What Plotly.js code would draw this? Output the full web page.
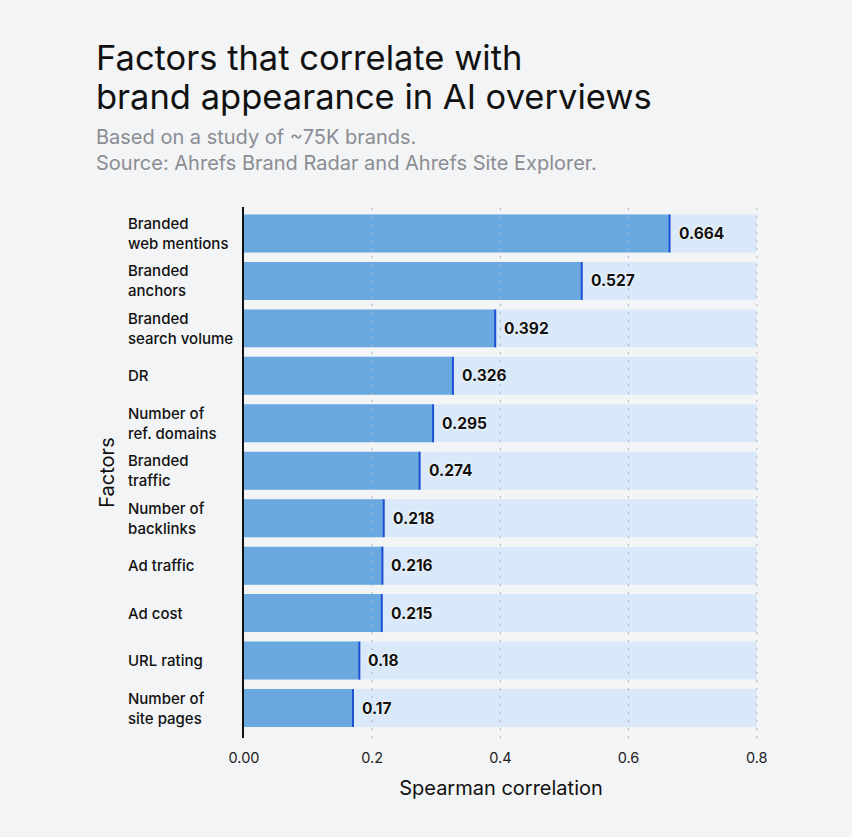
<!DOCTYPE html>
<html>
<head>
<meta charset="utf-8">
<script src="https://cdn.plot.ly/plotly-3.0.1.min.js"></script>
<style>
  html, body { margin: 0; padding: 0; background: #f3f4f6; }
  #chart { width: 852px; height: 837px; }
</style>
</head>
<body>
<div id="chart"></div>
<script>
// Factors, top to bottom, with their Spearman correlation to AI overview appearance
const factors = [
  "Branded<br>web mentions",
  "Branded<br>anchors",
  "Branded<br>search volume",
  "DR",
  "Number of<br>ref. domains",
  "Branded<br>traffic",
  "Number of<br>backlinks",
  "Ad traffic",
  "Ad cost",
  "URL rating",
  "Number of<br>site pages"
];
const correlation = [0.664, 0.527, 0.392, 0.326, 0.295, 0.274, 0.218, 0.216, 0.215, 0.18, 0.17];

const xTickVals = [0, 0.2, 0.4, 0.6, 0.8];
const xTickText = ["0.00", "0.2", "0.4", "0.6", "0.8"];
const axisMax = 0.8;

const titleLines = ["Factors that correlate with", "brand appearance in AI overviews"];
const subtitleLines = ["Based on a study of ~75K brands.", "Source: Ahrefs Brand Radar and Ahrefs Site Explorer."];

const FONT = "Inter, 'Noto Sans', sans-serif";
const idx = factors.map((_, i) => i);

// full-width track behind each bar
const track = {
  type: "bar", orientation: "h",
  y: idx, x: idx.map(() => axisMax),
  width: 0.8,
  marker: { color: "#d9e9f9" },
  hoverinfo: "skip"
};
const values = {
  type: "bar", orientation: "h",
  y: idx, x: correlation,
  width: 0.8,
  marker: { color: "#6aa9e0" },
  hovertemplate: "%{x}<extra></extra>"
};

const shapes = [];
// dotted vertical grid drawn over the bars
xTickVals.slice(1).forEach(v => shapes.push({
  type: "line", xref: "x", yref: "paper", x0: v, x1: v, y0: 0, y1: 1,
  layer: "above", line: { color: "#aeb3bb", width: 1, dash: "2px,6px" }
}));
// dark marker at the end of each value bar
correlation.forEach((v, i) => shapes.push({
  type: "line", xref: "x", yref: "y", x0: v, x1: v, y0: i - 0.4, y1: i + 0.4,
  layer: "above", line: { color: "#1d4fd6", width: 2 }
}));

const annotations = [];
factors.forEach((f, i) => annotations.push({
  xref: "paper", yref: "y", x: -0.2257, y: i, xshift: -2,
  xanchor: "left", yanchor: "middle", align: "left",
  text: f, showarrow: false,
  font: { family: FONT, size: 15, color: "#111", weight: 550 }
}));
correlation.forEach((v, i) => annotations.push({
  xref: "x", yref: "y", x: v, y: i, xshift: 7,
  xanchor: "left", yanchor: "middle",
  text: String(v), showarrow: false,
  font: { family: FONT, size: 15.5, color: "#111", weight: 700, shadow: "0 0 2px #fff, 0 0 2px #fff" }
}));

// title and source lines above the plot
const H = 531, BOTTOM = 738;
const py = px => (BOTTOM - px) / H;
const titleY = [58, 96];
titleLines.forEach((t, i) => annotations.push({
  xref: "paper", yref: "paper", x: (96 - 244) / 514, y: py(titleY[i]), xshift: -2,
  xanchor: "left", yanchor: "middle",
  text: t, showarrow: false,
  font: { family: FONT, size: 34.5, color: "#111" }
}));
const subY = [137, 163];
subtitleLines.forEach((t, i) => annotations.push({
  xref: "paper", yref: "paper", x: (96 - 244) / 514, y: py(subY[i]), xshift: -2,
  xanchor: "left", yanchor: "middle",
  text: t, showarrow: false,
  font: { family: FONT, size: 20, color: "#8a8d93" }
}));

const layout = {
  width: 852, height: 837,
  paper_bgcolor: "#f3f4f6", plot_bgcolor: "#f3f4f6",
  margin: { l: 244, r: 94, t: 207, b: 99 },
  barmode: "overlay",
  showlegend: false,
  font: { family: FONT, color: "#111" },
  xaxis: {
    range: [0, 0.802], fixedrange: true,
    tickvals: xTickVals, ticktext: xTickText,
    showgrid: false, zeroline: false, showline: false,
    ticks: "", ticklen: 0, ticklabelstandoff: 9,
    tickfont: { family: FONT, size: 14.5, color: "#222" },
    title: { text: "Spearman correlation", font: { family: FONT, size: 20, color: "#111" }, standoff: 16 }
  },
  yaxis: {
    range: [10.632, -0.558], fixedrange: true,
    showticklabels: false, showgrid: false, zeroline: false,
    showline: true, linecolor: "#111", linewidth: 2, layer: "above traces",
    ticks: "",
    title: { text: "Factors", font: { family: FONT, size: 20, color: "#111" }, standoff: 122 }
  },
  shapes: shapes,
  annotations: annotations
};

Plotly.newPlot("chart", [track, values], layout, { displayModeBar: false, staticPlot: true });
</script>
</body>
</html>
